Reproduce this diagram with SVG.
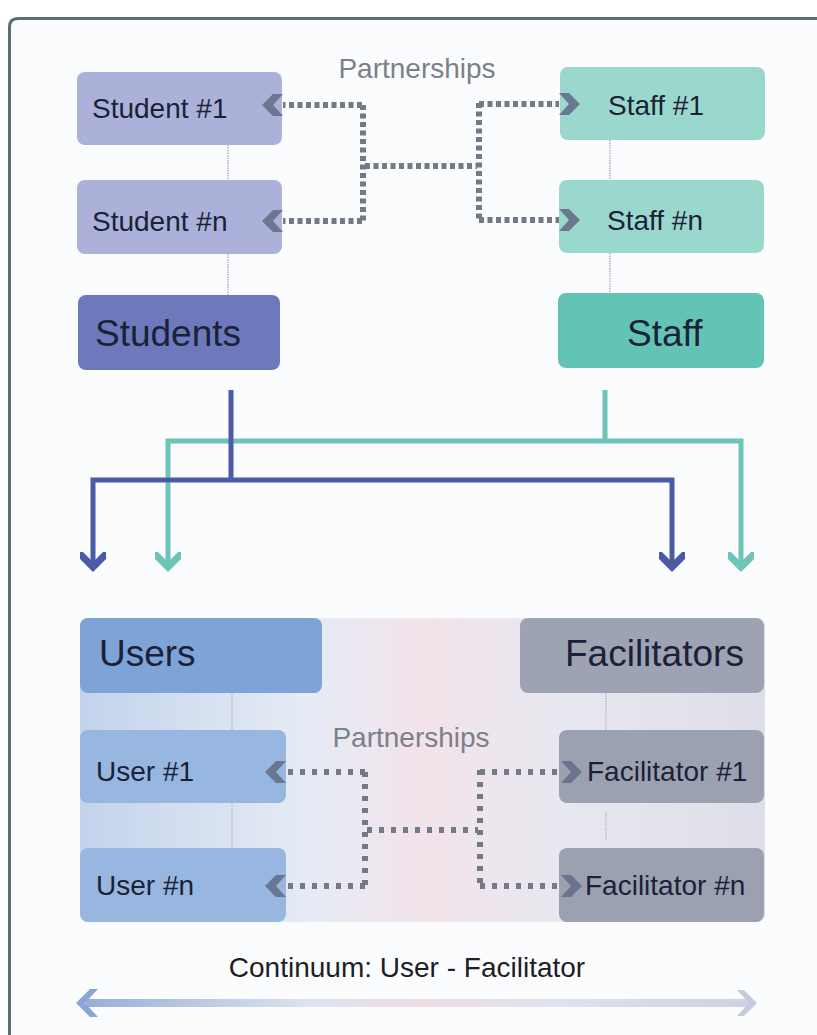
<svg xmlns="http://www.w3.org/2000/svg" width="817" height="1035" viewBox="0 0 817 1035">
<style>
text{font-family:"Liberation Sans",Arial,sans-serif;}
.sm{font-size:28px;fill:#1b2238;}
.big{font-size:37px;fill:#1b2238;}
.part{font-size:28px;fill:#7b808a;}
.thin{stroke:#c4c6cf;stroke-width:2;stroke-dasharray:1.5 1;fill:none;}
.dot{stroke:#737985;stroke-width:6;stroke-dasharray:5 3.5;fill:none;}
.dot2{stroke:#737985;stroke-width:6;stroke-dasharray:5 7;fill:none;}
.blue{stroke:#4b5ba8;stroke-width:5;fill:none;}
.teal{stroke:#6cc5b8;stroke-width:5;fill:none;}
</style>
<defs>
<marker id="chev" markerUnits="userSpaceOnUse" markerWidth="22" markerHeight="24" refX="0" refY="12" orient="auto" overflow="visible">
<path d="M0,1 L10,1 L21,12 L10,23 L0,23 L10,12 Z" fill="#66718a" fill-opacity="0.92"/>
</marker>
<marker id="hb" markerUnits="userSpaceOnUse" markerWidth="26" markerHeight="26" refX="21" refY="13" orient="auto-start-reverse">
<path d="M24,13 L11,0 L4,0 L4,3 L14,13 L4,23 L4,26 L11,26 Z" fill="#4b5ba8"/>
</marker>
<marker id="ht" markerUnits="userSpaceOnUse" markerWidth="26" markerHeight="26" refX="21" refY="13" orient="auto-start-reverse">
<path d="M24,13 L11,0 L4,0 L4,3 L14,13 L4,23 L4,26 L11,26 Z" fill="#6cc5b8"/>
</marker>
<linearGradient id="band" x1="0" y1="0" x2="1" y2="0">
<stop offset="0" stop-color="#c3d3ec"/>
<stop offset="0.33" stop-color="#e6ebf5"/>
<stop offset="0.5" stop-color="#f3e3ea"/>
<stop offset="0.7" stop-color="#e8e8f0"/>
<stop offset="1" stop-color="#dddee7"/>
</linearGradient>
<linearGradient id="cont" gradientUnits="userSpaceOnUse" x1="80" y1="0" x2="757" y2="0">
<stop offset="0" stop-color="#96add6"/>
<stop offset="0.35" stop-color="#dfe4f0"/>
<stop offset="0.5" stop-color="#efdde5"/>
<stop offset="0.7" stop-color="#e0e2ee"/>
<stop offset="1" stop-color="#ccd0e2"/>
</linearGradient>
</defs>

<rect x="0" y="0" width="817" height="1035" fill="#ffffff"/>
<rect x="10" y="19" width="807" height="1016" fill="#fbfcfd"/>
<path d="M9.5,1035 L9.5,27 Q9.5,18.5 18,18.5 L817,18.5" fill="none" stroke="#5d6e73" stroke-width="3"/>

<rect id="band-bg" x="80" y="618" width="685" height="304" rx="8" fill="url(#band)"/>

<text class="part" x="417" y="78" text-anchor="middle">Partnerships</text>
<text class="part" x="411" y="747" text-anchor="middle">Partnerships</text>

<g id="student1"><rect x="77" y="72" width="205" height="73" rx="8" fill="#abb1d8"/><text class="sm" x="92" y="118">Student #1</text></g>
<g id="studentn"><rect x="77" y="180" width="205" height="74" rx="8" fill="#abb1d8"/><text class="sm" x="92" y="231">Student #n</text></g>
<g id="students"><rect x="78" y="295" width="202" height="75" rx="8" fill="#6d79ba"/><text class="big" x="95" y="346">Students</text></g>
<g id="staff1"><rect x="560" y="67" width="205" height="73" rx="8" fill="#9ad8cd"/><text class="sm" x="608" y="115">Staff #1</text></g>
<g id="staffn"><rect x="559" y="180" width="205" height="73" rx="8" fill="#9ad8cd"/><text class="sm" x="607" y="230">Staff #n</text></g>
<g id="staff"><rect x="558" y="293" width="206" height="75" rx="8" fill="#63c4b6"/><text class="big" x="627" y="346">Staff</text></g>

<g id="users"><rect x="80" y="618" width="242" height="75" rx="8" fill="#7ea3d7"/><text class="big" x="99" y="666">Users</text></g>
<g id="user1"><rect x="80" y="730" width="206" height="73" rx="8" fill="#98b7e0"/><text class="sm" x="96" y="781">User #1</text></g>
<g id="usern"><rect x="80" y="848" width="206" height="74" rx="8" fill="#98b7e0"/><text class="sm" x="96" y="895">User #n</text></g>
<g id="facilitators"><rect x="520" y="618" width="244" height="75" rx="8" fill="#9ea3b4"/><text class="big" x="565" y="666">Facilitators</text></g>
<g id="facilitator1"><rect x="559" y="730" width="205" height="73" rx="8" fill="#9ca1b2"/><text class="sm" x="587" y="781">Facilitator #1</text></g>
<g id="facilitatorn"><rect x="559" y="848" width="205" height="74" rx="8" fill="#9ca1b2"/><text class="sm" x="585" y="895">Facilitator #n</text></g>

<g id="connectors">
<path class="thin" d="M228,145 V180 M228,254 V295 M610,140 V180 M610,253 V293"/>
<path class="thin" d="M232,693 V730 M232,803 V848 M606,693 V730 M606,812 V840"/>
<path class="dot" d="M362,105 H283" marker-end="url(#chev)"/>
<path class="dot" d="M362,221 H283" marker-end="url(#chev)"/>
<path class="dot" d="M363,105 V222"/>
<path class="dot" d="M365,166 H477"/>
<path class="dot" d="M479,103 V220"/>
<path class="dot" d="M479,104 H559" marker-end="url(#chev)"/>
<path class="dot" d="M479,220 H559" marker-end="url(#chev)"/>
<path class="dot2" d="M365,772 H286" marker-end="url(#chev)"/>
<path class="dot2" d="M365,886 H286" marker-end="url(#chev)"/>
<path class="dot2" d="M365,772 V888"/>
<path class="dot2" d="M367,830 H478"/>
<path class="dot2" d="M480,770 V886"/>
<path class="dot2" d="M480,772 H561" marker-end="url(#chev)"/>
<path class="dot2" d="M480,886 H561" marker-end="url(#chev)"/>
<path class="teal" d="M605,390 V441"/>
<path class="teal" d="M168,569 V441 H741 V569" marker-start="url(#ht)" marker-end="url(#ht)"/>
<path class="blue" d="M231,390 V480"/>
<path class="blue" d="M93,569 V480 H672 V569" marker-start="url(#hb)" marker-end="url(#hb)"/>
<path d="M86,1003 H750" stroke="url(#cont)" stroke-width="8" fill="none"/>
<polygon points="76,1003 90,989 98,989 85,1003 98,1017 90,1017" fill="#8ca6d3"/>
<polygon points="757,1003 744,990 737,990 749,1003 737,1016 744,1016" fill="#c6cade"/>
</g>

<text x="407" y="977" text-anchor="middle" style="font-size:28px;fill:#1e1e24;">Continuum: User - Facilitator</text>
</svg>
